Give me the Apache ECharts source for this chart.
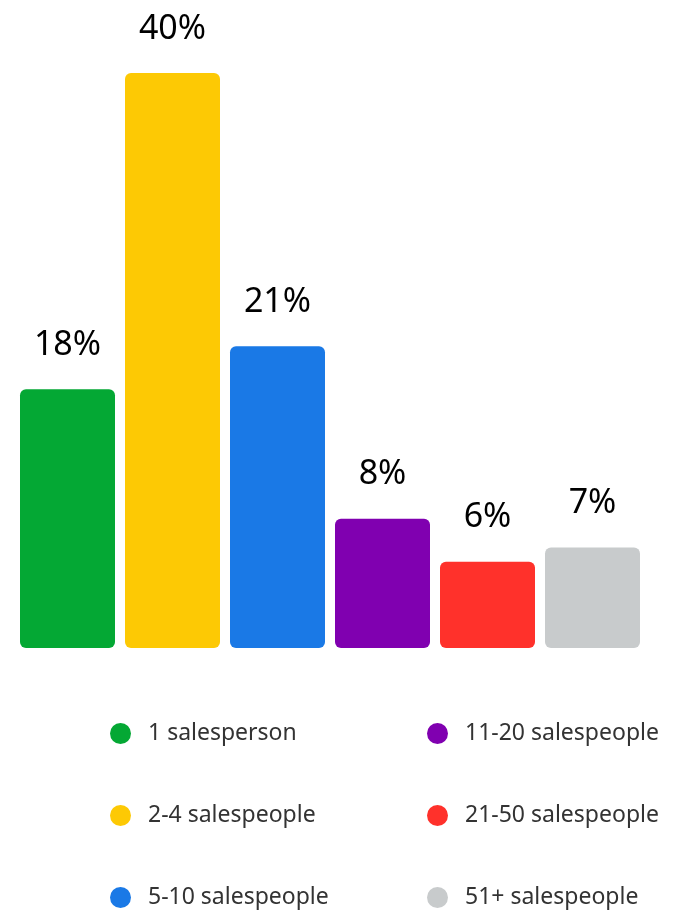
<!DOCTYPE html>
<html>
<head>
<meta charset="utf-8">
<script src="https://cdn.jsdelivr.net/npm/echarts@6/dist/echarts.min.js"></script>
<style>
  html, body { margin: 0; padding: 0; background: #fff; }
  #chart { width: 677px; height: 911px; }
</style>
</head>
<body>
<div id="chart"></div>
<script>
// team size buckets
var categories = ['1 salesperson', '2-4 salespeople', '5-10 salespeople',
                  '11-20 salespeople', '21-50 salespeople', '51+ salespeople'];
// bar heights
var shares = [18, 40, 21, 9, 6, 7];
// the printed labels
var shareLabels = ['18%', '40%', '21%', '8%', '6%', '7%'];
var colors = ['#04a834', '#fdc904', '#1a79e6', '#8000b0', '#ff312b', '#c8cbcc'];

var myChart = echarts.init(document.getElementById('chart'));

var series = categories.map(function (name, i) {
    var data = categories.map(function (c, j) { return j === i ? shares[i] : null })
    return {
        name: name,
        type: 'bar',
        barWidth: 95,
        barGap: '-100%',
        itemStyle: {color: colors[i], borderRadius: 6},
        label: {
            show: true,
            position: 'top',
            distance: 27,
            fontFamily: 'Noto Sans',
            fontSize: 34,
            color: '#000',
            formatter: function () { return shareLabels[i] }
        },
        data: data
    }
})

function legendCol(left, names) {
    return {
        left: left,
        top: 722,
        orient: 'vertical',
        padding: 0,
        height: 188,
        itemWidth: 21,
        itemHeight: 21,
        itemGap: 59,
        icon: 'circle',
        selectedMode: false,
        textStyle: {
            fontFamily: 'Noto Sans',
            fontSize: 23,
            lineHeight: 21,
            color: '#333',
            padding: [0, 0, 0, 12]
        },
        data: names
    }
}

myChart.setOption({
    animation: false,
    grid: {left: 15, right: 32, top: 73, bottom: 263},
    xAxis: {
        type: 'category',
        data: categories,
        show: false
    },
    yAxis: {
        type: 'value',
        min: 0,
        max: 40,
        show: false
    },
    legend: [
        legendCol(110, categories.slice(0, 3)),
        legendCol(427, categories.slice(3))
    ],
    series: series
});
</script>
</body>
</html>
